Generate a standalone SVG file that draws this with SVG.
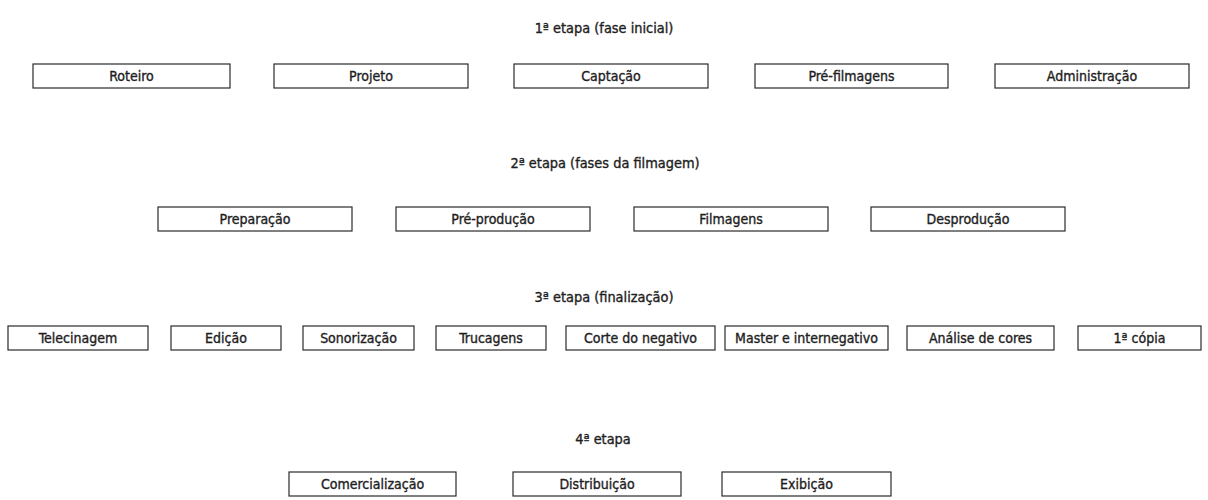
<svg xmlns="http://www.w3.org/2000/svg" width="1208" height="500" viewBox="0 0 1208 500">
<style>
.bg{fill:#ffffff}
.box{fill:#ffffff;stroke:#2a2a2a;stroke-width:1.2}
.lbl{font-family:"DejaVu Sans Condensed","Liberation Sans Narrow","Liberation Sans",sans-serif;font-size:14px;fill:#1e1e1e;stroke:#1e1e1e;stroke-width:0.35;text-anchor:middle;dominant-baseline:central}
.ttl{font-family:"DejaVu Sans Condensed","Liberation Sans Narrow","Liberation Sans",sans-serif;font-size:14.4px;fill:#1e1e1e;stroke:#1e1e1e;stroke-width:0.35;text-anchor:middle;dominant-baseline:central}
</style>
<rect class="bg" x="0" y="0" width="1208" height="500"/>
<g id="titles">
<text class="ttl" x="604" y="28">1ª etapa (fase inicial)</text>
<text class="ttl" x="605" y="163">2ª etapa (fases da filmagem)</text>
<text class="ttl" x="604" y="297">3ª etapa (finalização)</text>
<text class="ttl" x="603" y="439">4ª etapa</text>
</g>
<g id="roteiro"><rect class="box" x="33" y="64" width="197" height="24"/><text class="lbl" x="131.5" y="76">Roteiro</text></g>
<g id="projeto"><rect class="box" x="274" y="64" width="194" height="24"/><text class="lbl" x="371" y="76">Projeto</text></g>
<g id="captacao"><rect class="box" x="514" y="64" width="194" height="24"/><text class="lbl" x="611" y="76">Captação</text></g>
<g id="prefilmagens"><rect class="box" x="755" y="64" width="193" height="24"/><text class="lbl" x="851.5" y="76">Pré-filmagens</text></g>
<g id="administracao"><rect class="box" x="995" y="64" width="194" height="24"/><text class="lbl" x="1092" y="76">Administração</text></g>

<g id="preparacao"><rect class="box" x="158" y="207" width="194" height="24"/><text class="lbl" x="255" y="219">Preparação</text></g>
<g id="preproducao"><rect class="box" x="396" y="207" width="194" height="24"/><text class="lbl" x="493" y="219">Pré-produção</text></g>
<g id="filmagens"><rect class="box" x="634" y="207" width="194" height="24"/><text class="lbl" x="731" y="219">Filmagens</text></g>
<g id="desproducao"><rect class="box" x="871" y="207" width="194" height="24"/><text class="lbl" x="968" y="219">Desprodução</text></g>

<g id="telecinagem"><rect class="box" x="8" y="326" width="140" height="24"/><text class="lbl" x="78" y="338">Telecinagem</text></g>
<g id="edicao"><rect class="box" x="171" y="326" width="110" height="24"/><text class="lbl" x="226" y="338">Edição</text></g>
<g id="sonorizacao"><rect class="box" x="303" y="326" width="111" height="24"/><text class="lbl" x="358.5" y="338">Sonorização</text></g>
<g id="trucagens"><rect class="box" x="436" y="326" width="110" height="24"/><text class="lbl" x="491" y="338">Trucagens</text></g>
<g id="corte"><rect class="box" x="566" y="326" width="149" height="24"/><text class="lbl" x="640.5" y="338">Corte do negativo</text></g>
<g id="master"><rect class="box" x="725" y="326" width="163" height="24"/><text class="lbl" x="806.5" y="338">Master e internegativo</text></g>
<g id="analise"><rect class="box" x="907" y="326" width="147" height="24"/><text class="lbl" x="980.5" y="338">Análise de cores</text></g>
<g id="copia"><rect class="box" x="1078" y="326" width="123" height="24"/><text class="lbl" x="1139.5" y="338">1ª cópia</text></g>

<g id="comercializacao"><rect class="box" x="289" y="472" width="167" height="24"/><text class="lbl" x="372.5" y="484">Comercialização</text></g>
<g id="distribuicao"><rect class="box" x="513" y="472" width="168" height="24"/><text class="lbl" x="597" y="484">Distribuição</text></g>
<g id="exibicao"><rect class="box" x="722" y="472" width="169" height="24"/><text class="lbl" x="806.5" y="484">Exibição</text></g>
</svg>
